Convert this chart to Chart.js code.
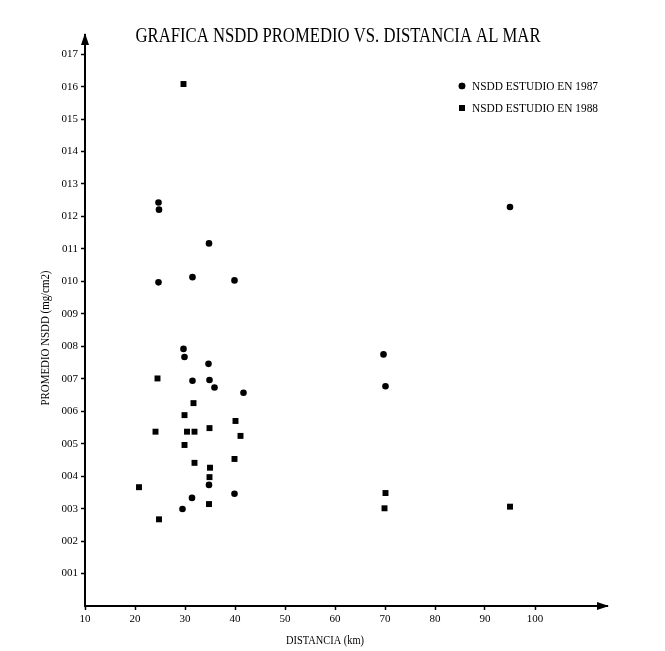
<!DOCTYPE html>
<html>
<head>
<meta charset="utf-8">
<title>Grafica NSDD promedio vs. distancia al mar</title>
<script src="https://cdn.jsdelivr.net/npm/chart.js@4.4.1/dist/chart.umd.min.js"></script>
<style>
	body { margin: 0; background: #fff; }
</style>
</head>
<body>
<canvas id="nsddChart" width="665" height="651"></canvas>
<script>
const titleText = 'GRAFICA NSDD PROMEDIO VS. DISTANCIA AL MAR';
const xAxisLabel = 'DISTANCIA (km)';
const yAxisLabel = 'PROMEDIO NSDD (mg/cm2)';
const seriesLabels = ['NSDD ESTUDIO EN 1987', 'NSDD ESTUDIO EN 1988'];

// estudio 1987 (circulos)
const dist1987 = [24.7, 24.8, 34.8, 31.5, 24.7, 39.9, 29.7, 29.9, 34.7, 31.5,
	34.9, 35.9, 41.7, 34.8, 39.9, 31.4, 29.5, 69.7, 70.1, 95.0];
const nsdd1987 = [0.1243, 0.1221, 0.1117, 0.1013, 0.0997, 0.1003, 0.0792, 0.0767, 0.0746, 0.0694,
	0.0696, 0.0673, 0.0657, 0.0373, 0.0346, 0.0333, 0.0299, 0.0775, 0.0677, 0.1229];

// estudio 1988 (cuadros)
const dist1988 = [29.7, 24.5, 31.7, 29.9, 40.1, 34.9, 24.1, 30.4, 31.9, 41.1,
	29.9, 39.9, 31.9, 35.0, 34.9, 20.8, 34.8, 24.8, 70.1, 69.9, 95.0];
const nsdd1988 = [0.1608, 0.0701, 0.0625, 0.0588, 0.0570, 0.0548, 0.0537, 0.0537, 0.0537, 0.0524,
	0.0496, 0.0453, 0.0441, 0.0426, 0.0397, 0.0366, 0.0314, 0.0267, 0.0348, 0.0301, 0.0306];

const xTickValues = [10, 20, 30, 40, 50, 60, 70, 80, 90, 100];
const yTickValues = [0.01, 0.02, 0.03, 0.04, 0.05, 0.06, 0.07, 0.08, 0.09,
	0.10, 0.11, 0.12, 0.13, 0.14, 0.15, 0.16, 0.17];
const yTickLabels = ['001', '002', '003', '004', '005', '006', '007', '008', '009',
	'010', '011', '012', '013', '014', '015', '016', '017'];

function toPoints(xs, ys) {
	return xs.map(function(x, i) {
		return { x: x, y: ys[i] };
	});
}

function drawArrowHead(ctx, x, y, dir) {
	ctx.beginPath();
	if (dir === 'up') {
		ctx.moveTo(x, y - 2);
		ctx.lineTo(x - 4, y + 10);
		ctx.lineTo(x + 4, y + 10);
	} else {
		ctx.moveTo(x + 2, y);
		ctx.lineTo(x - 10, y - 4);
		ctx.lineTo(x - 10, y + 4);
	}
	ctx.closePath();
	ctx.fill();
}

// titulo, leyenda, rotulos de ejes y flechas
const decorPlugin = {
	id: 'decor',
	afterDraw: function(chart) {
		var ctx = chart.ctx;
		var area = chart.chartArea;
		ctx.save();
		ctx.fillStyle = '#000';

		drawArrowHead(ctx, area.left, area.top, 'up');
		drawArrowHead(ctx, area.right, area.bottom, 'right');

		ctx.textAlign = 'center';
		ctx.textBaseline = 'alphabetic';
		ctx.font = '20px "Liberation Serif"';
		ctx.fillText(titleText, 338, 42, 405);

		ctx.font = '12px "Liberation Serif"';
		ctx.textBaseline = 'middle';
		ctx.fillText(xAxisLabel, 325, 641, 78);

		ctx.save();
		ctx.translate(46, 338);
		ctx.rotate(-Math.PI / 2);
		ctx.fillText(yAxisLabel, 0, 0, 135);
		ctx.restore();

		// leyenda
		ctx.textAlign = 'left';
		chart.data.datasets.forEach(function(ds, i) {
			var y = 86 + i * 22;
			Chart.helpers.drawPoint(ctx, {
				pointStyle: ds.pointStyle,
				radius: ds.pointRadius,
				borderWidth: 0
			}, 462, y);
			ctx.fill();
			ctx.fillText(ds.label, 472, y + 1, 126);
		});

		ctx.restore();
	}
};

Chart.defaults.font.family = '"Liberation Serif", serif';
Chart.defaults.color = '#000';

var ctx = document.getElementById('nsddChart').getContext('2d');
var chart = new Chart(ctx, {
	type: 'scatter',
	data: {
		datasets: [
			{
				label: seriesLabels[0],
				data: toPoints(dist1987, nsdd1987),
				pointStyle: 'circle',
				pointRadius: 3.3,
				pointHoverRadius: 3.3,
				backgroundColor: '#000',
				borderColor: '#000',
				borderWidth: 0
			},
			{
				label: seriesLabels[1],
				data: toPoints(dist1988, nsdd1988),
				pointStyle: 'rect',
				pointRadius: 4.2,
				pointHoverRadius: 4.2,
				backgroundColor: '#000',
				borderColor: '#000',
				borderWidth: 0
			}
		]
	},
	options: {
		responsive: false,
		animation: false,
		layout: { padding: { left: 0, top: 35, right: 58, bottom: 0 } },
		plugins: {
			legend: { display: false },
			title: { display: false },
			tooltip: { enabled: false }
		},
		scales: {
			x: {
				type: 'linear',
				min: 10,
				max: 114.4,
				afterFit: function(scale) { scale.height = 45; },
				afterBuildTicks: function(scale) {
					scale.ticks = xTickValues.map(function(v) { return { value: v }; });
				},
				grid: { drawOnChartArea: false, tickLength: 4, color: '#000', tickWidth: 1.5 },
				border: { color: '#000', width: 2 },
				ticks: { font: { size: 11 }, padding: 3, maxRotation: 0 }
			},
			y: {
				type: 'linear',
				min: 0,
				max: 0.1759,
				afterFit: function(scale) { scale.width = 85; },
				afterBuildTicks: function(scale) {
					scale.ticks = yTickValues.map(function(v) { return { value: v }; });
				},
				grid: { drawOnChartArea: false, tickLength: 4, color: '#000', tickWidth: 1.5 },
				border: { color: '#000', width: 2 },
				ticks: {
					font: { size: 11 },
					padding: 3,
					callback: function(value, index) {
						return yTickLabels[index];
					}
				}
			}
		}
	},
	plugins: [decorPlugin]
});
</script>
</body>
</html>
